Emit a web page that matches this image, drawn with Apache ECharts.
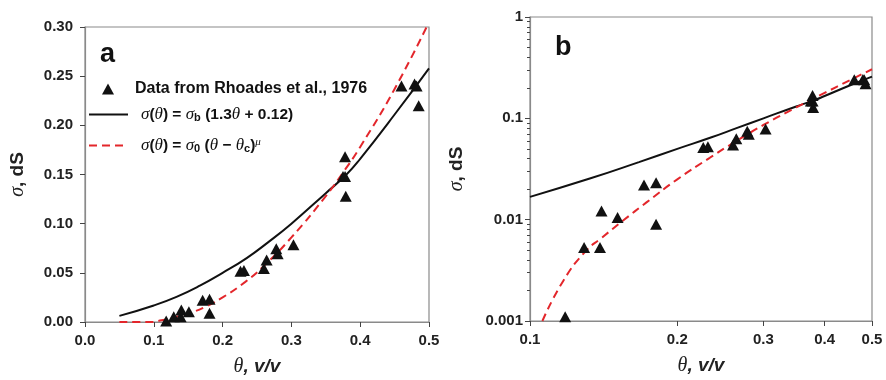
<!DOCTYPE html>
<html>
<head>
<meta charset="utf-8">
<script src="https://cdn.jsdelivr.net/npm/echarts@6/dist/echarts.min.js"></script>
<style>
  html, body { margin: 0; padding: 0; background: #fff; }
  #chart { width: 886px; height: 380px; }
</style>
</head>
<body>
<div id="chart"></div>
<script>
// measured points (Rhoades et al., 1976)
const dataTheta = [0.118, 0.129, 0.139, 0.140, 0.151, 0.171, 0.181, 0.181, 0.226, 0.231, 0.260, 0.264, 0.278, 0.280, 0.303, 0.375, 0.378, 0.378, 0.379, 0.460, 0.479, 0.482, 0.485];
const dataSigma = [0.0011, 0.0053, 0.0053, 0.0122, 0.0105, 0.0220, 0.0232, 0.0090, 0.0515, 0.0525, 0.0545, 0.0630, 0.0745, 0.0695, 0.0785, 0.148, 0.148, 0.168, 0.128, 0.240, 0.242, 0.240, 0.220];

// black fit curve, sigma_b (1.3 theta + 0.12)
const blackTheta = [0.05, 0.1, 0.133, 0.167, 0.2, 0.235, 0.266, 0.3, 0.35, 0.38, 0.4, 0.45, 0.5];
const blackSigma = [0.0062, 0.0168, 0.0256, 0.037, 0.050, 0.065, 0.081, 0.100, 0.131, 0.150, 0.166, 0.211, 0.258];

// red dashed fit curve, sigma_0 (theta - theta_c)^mu
const redTheta = [0.05, 0.1, 0.106, 0.117, 0.13, 0.14, 0.155, 0.173, 0.2, 0.233, 0.26, 0.3, 0.35, 0.375, 0.4, 0.45, 0.5];
const redSigma = [0, 0, 0.001, 0.0025, 0.0049, 0.0066, 0.0098, 0.0148, 0.025, 0.0408, 0.057, 0.086, 0.128, 0.152, 0.178, 0.237, 0.305];

const logXTicks = [0.1, 0.2, 0.3, 0.4, 0.5];
const logYDecades = [0.001, 0.01, 0.1];

const dataName = 'Data from Rhoades et al., 1976';
const blackName = 'sigma_b';
const redName = 'sigma_0';

const SANS = 'Liberation Sans, Arial, sans-serif';
const SERIF = 'Liberation Serif, Times New Roman, serif';
const AXIS_GRAY = '#8a8a8a';
const RED = '#e3262b';

const pairs = (xs, ys) => xs.map((x, i) => [x, ys[i]]);
const positive = (arr) => arr.filter((p) => p[1] > 0);

const minorLogTicks = [];
logYDecades.forEach((d) => {
  for (let k = 2; k <= 9; k++) minorLogTicks.push(+(d * k).toPrecision(2));
});

const legendRich = {
  p: { width: 8 },
  i: { fontFamily: SERIF, fontStyle: 'italic', fontSize: 17, color: '#111' },
  n: { fontFamily: SANS, fontWeight: 'bold', fontSize: 15.5, color: '#111' },
  s: { fontFamily: SANS, fontWeight: 'bold', fontSize: 11, color: '#111', verticalAlign: 'bottom', lineHeight: 11 },
  u: { fontFamily: SERIF, fontStyle: 'italic', fontSize: 11, color: '#111', verticalAlign: 'top', lineHeight: 11 },
  t: { fontFamily: SANS, fontWeight: 'bold', fontSize: 16, color: '#111', padding: [0, 0, 0, 16] },
};

const nameRich = {
  g: { fontFamily: SERIF, fontStyle: 'italic', fontSize: 20, color: '#222' },
  b: { fontFamily: SANS, fontWeight: 'bold', fontSize: 19, color: '#222' },
  bi: { fontFamily: SANS, fontWeight: 'bold', fontStyle: 'italic', fontSize: 19, color: '#222' },
};

const baseLabel = { fontFamily: SANS, fontWeight: 'bold', fontSize: 15, color: '#222' };
const baseTick = { show: true, inside: false, length: 5, lineStyle: { color: '#444' } };
const baseLine = { show: true, lineStyle: { color: AXIS_GRAY, width: 1.2 } };
const noSymbol = { opacity: 0 };

const chart = echarts.init(document.getElementById('chart'), null, { renderer: 'canvas' });

chart.setOption({
  animation: false,
  backgroundColor: '#fff',
  title: [
    { text: 'a', left: 95, top: 36, textStyle: { fontFamily: SANS, fontWeight: 'bold', fontSize: 27, color: '#111' } },
    { text: 'b', left: 550, top: 29, textStyle: { fontFamily: SANS, fontWeight: 'bold', fontSize: 27, color: '#111' } },
  ],
  legend: [
    {
      data: [dataName], left: 102, top: 81, padding: 0,
      itemWidth: 12, itemHeight: 11,
      formatter: (name) => '{t|' + name + '}',
      textStyle: { rich: legendRich },
    },
    {
      data: [blackName], left: 88, top: 106, padding: 0,
      itemWidth: 39, itemHeight: 12, itemStyle: noSymbol,
      formatter: () => '{p|}{i|σ}{n|(}{i|θ}{n|) = }{i|σ}{s|b}{n| (1.3}{i|θ}{n| + 0.12)}',
      textStyle: { rich: legendRich },
    },
    {
      data: [redName], left: 88, top: 137, padding: 0,
      itemWidth: 39, itemHeight: 12, itemStyle: noSymbol,
      formatter: () => '{p|}{i|σ}{n|(}{i|θ}{n|) = }{i|σ}{s|0}{n| (}{i|θ}{n| − }{i|θ}{s|c}{n|)}{u|μ}',
      textStyle: { rich: legendRich },
    },
  ],
  grid: [
    { left: 85, right: 457, top: 27, bottom: 58, show: true, borderColor: AXIS_GRAY, borderWidth: 1.2, outerBoundsMode: 'none' },
    { left: 530, right: 14, top: 17, bottom: 59, show: true, borderColor: AXIS_GRAY, borderWidth: 1.2, outerBoundsMode: 'none' },
  ],
  xAxis: [
    {
      gridIndex: 0, type: 'value', min: 0, max: 0.5, interval: 0.1,
      axisLine: baseLine, axisTick: baseTick, splitLine: { show: false },
      axisLabel: { ...baseLabel, margin: 11, formatter: (v) => v.toFixed(1) },
      name: '{g|θ}{bi|, v/v}', nameLocation: 'middle', nameGap: 35,
      nameTextStyle: { rich: nameRich },
    },
    {
      gridIndex: 1, type: 'log', logBase: 10, min: 0.1, max: 0.5,
      axisLine: baseLine,
      axisTick: { ...baseTick, customValues: logXTicks },
      splitLine: { show: false }, minorTick: { show: false },
      axisLabel: { ...baseLabel, margin: 11, customValues: logXTicks, formatter: (v) => (+v).toFixed(1) },
      name: '{g|θ}{bi|, v/v}', nameLocation: 'middle', nameGap: 35,
      nameTextStyle: { rich: nameRich },
    },
  ],
  yAxis: [
    {
      gridIndex: 0, type: 'value', min: 0, max: 0.3, interval: 0.05,
      axisLine: baseLine, axisTick: baseTick, splitLine: { show: false },
      axisLabel: { ...baseLabel, margin: 12, formatter: (v) => v.toFixed(2) },
      name: '{g|σ}{b|, dS}', nameLocation: 'middle', nameGap: 57,
      nameTextStyle: { rich: nameRich },
    },
    {
      gridIndex: 1, type: 'log', logBase: 10, min: 0.001, max: 1,
      axisLine: baseLine, axisTick: baseTick, splitLine: { show: false },
      axisLabel: { ...baseLabel, margin: 7, formatter: (v) => String(+(+v).toPrecision(1)) },
      name: '{g|σ}{b|, dS}', nameLocation: 'middle', nameGap: 63,
      nameTextStyle: { rich: nameRich },
    },
    {
      // minor ticks of the log axis
      gridIndex: 1, type: 'log', logBase: 10, min: 0.001, max: 1, position: 'left',
      axisLine: { show: false }, splitLine: { show: false },
      axisTick: { show: true, inside: false, length: 3, customValues: minorLogTicks, lineStyle: { color: '#444' } },
      axisLabel: { show: false },
    },
  ],
  series: [
    {
      name: blackName, type: 'line', xAxisIndex: 0, yAxisIndex: 0,
      data: pairs(blackTheta, blackSigma), smooth: true, symbol: 'none',
      lineStyle: { color: '#111', width: 2 }, itemStyle: { color: '#111' }, z: 2,
    },
    {
      name: redName, type: 'line', xAxisIndex: 0, yAxisIndex: 0,
      data: pairs(redTheta, redSigma), smooth: 0.5, symbol: 'none',
      lineStyle: { color: RED, width: 2, type: [8, 5] }, itemStyle: { color: RED }, z: 2,
    },
    {
      name: dataName, type: 'scatter', xAxisIndex: 0, yAxisIndex: 0,
      data: pairs(dataTheta, dataSigma), symbol: 'triangle', symbolSize: [12, 11],
      itemStyle: { color: '#111', opacity: 1 }, z: 3,
    },
    {
      name: 'b-black', type: 'line', xAxisIndex: 1, yAxisIndex: 1,
      data: pairs(blackTheta, blackSigma).filter((p) => p[0] >= 0.1), smooth: true, symbol: 'none',
      lineStyle: { color: '#111', width: 2 }, z: 2,
    },
    {
      name: 'b-red', type: 'line', xAxisIndex: 1, yAxisIndex: 1,
      data: positive(pairs(redTheta, redSigma)), smooth: 0.5, symbol: 'none',
      lineStyle: { color: RED, width: 2, type: [8, 5] }, z: 2,
    },
    {
      name: 'b-data', type: 'scatter', xAxisIndex: 1, yAxisIndex: 1,
      data: pairs(dataTheta, dataSigma), symbol: 'triangle', symbolSize: [12, 11],
      itemStyle: { color: '#111', opacity: 1 }, z: 3,
    },
  ],
});
</script>
</body>
</html>
